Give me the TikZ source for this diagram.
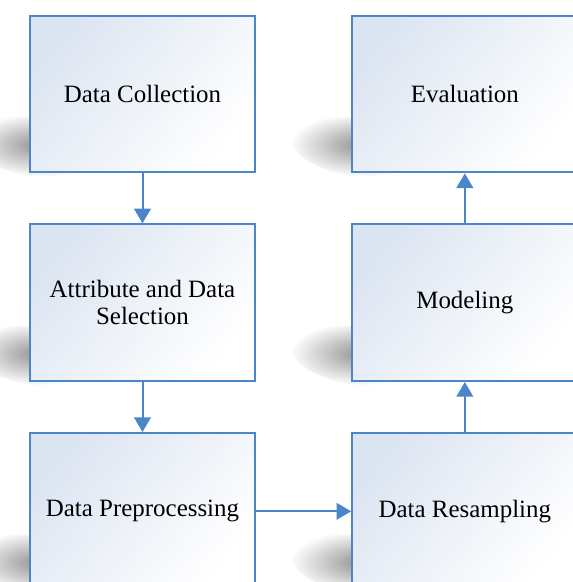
\documentclass[tikz,border=0pt]{standalone}
\usepackage{fontspec}
\setmainfont{Liberation Serif}
\usetikzlibrary{positioning,arrows.meta,backgrounds}

\definecolor{flowblue}{HTML}{4A86C8}
\definecolor{paleblue}{HTML}{DCE5F2}

\begin{document}
\begin{tikzpicture}[x=0.75pt, y=-0.75pt, node distance=37.5pt and 71.25pt,
    every node/.style={draw=flowblue, line width=1.5pt, rectangle,
      minimum width=169pt, minimum height=117.5pt,
      top color=paleblue, bottom color=white, shading angle=50,
      align=center, font=\fontsize{18.7}{20.5}\selectfont},
    >={Triangle[width=12.5pt,length=11pt]}]

    \useasboundingbox (0,0) rectangle (573,582);
    \clip (0,0) rectangle (573,582);

    \node (collect) at (142.5,94) {Data Collection};
    \node (select) [below=of collect] {Attribute and Data\\Selection};
    \node (preproc) [below=of select] {Data Preprocessing};
    \node (eval) [right=of collect] {Evaluation};
    \node (model) [right=of select] {Modeling};
    \node (resample) [right=of preproc] {Data Resampling};

    % soft shadows on the left of the boxes
    \begin{scope}[on background layer]
        \clip (0,0) rectangle (573,582);
        \foreach \n in {collect,select,preproc,eval,model,resample}
            \shade[inner color=black!42, outer color=white, rotate=-8]
                ([xshift=4pt,yshift=20pt]\n.south west)
                ellipse [x radius=52pt, y radius=22pt];
    \end{scope}

    \draw[->, flowblue, line width=1.5pt] (collect) -- (select);
    \draw[->, flowblue, line width=1.5pt] (select) -- (preproc);
    \draw[->, flowblue, line width=1.5pt] (preproc) -- (resample);
    \draw[->, flowblue, line width=1.5pt] (resample) -- (model);
    \draw[->, flowblue, line width=1.5pt] (model) -- (eval);

\end{tikzpicture}
\end{document}
